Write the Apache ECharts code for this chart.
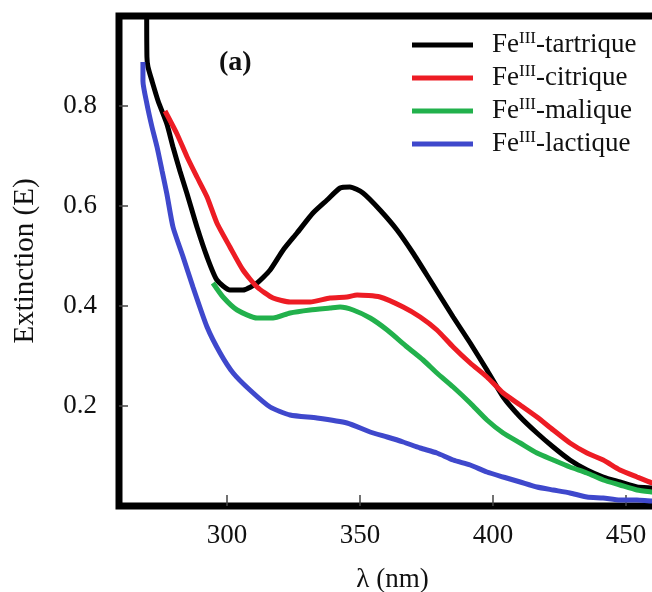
<!DOCTYPE html>
<html>
<head>
    <meta charset="utf-8">
    <title>Extinction Fe(III) complexes</title>
    <script src="https://cdn.jsdelivr.net/npm/echarts@6/dist/echarts.min.js"></script>
    <style>
        body { margin: 0; overflow: hidden; background: #fff; }
        #main { width: 680px; height: 592px; }
    </style>
</head>
<body>
<div id="main"></div>
<script type="text/javascript">
    // valeurs
    var ligands = ['tartrique', 'citrique', 'malique', 'lactique'];
    var colors = ['#000000', '#ed1c24', '#22b14c', '#3f48cc'];
    var wavelengthTicks = [300, 350, 400, 450];
    var extinctionTicks = [0.2, 0.4, 0.6, 0.8];

    var tartriqueNm = [269.8, 269.9, 270.3, 271.8, 274.1, 277.4, 279.7, 282.3, 285.0, 288.7, 292.5, 296.2, 301.1, 306.0,
        311.3, 316.2, 321.1, 326.3, 332.3, 337.6, 342.5, 346.2, 351.1, 357.5, 363.9, 369.9, 376.3, 385.0, 391.4,
        397.7, 403.8, 410.2, 416.5, 422.6, 428.9, 435.3, 441.4, 447.7, 454.1, 459.8, 462];
    var tartriqueE = [1.0, 0.898, 0.878, 0.85, 0.81, 0.764, 0.718, 0.67, 0.624, 0.558, 0.498, 0.452, 0.432, 0.432,
        0.446, 0.472, 0.512, 0.546, 0.586, 0.612, 0.636, 0.638, 0.626, 0.592, 0.552, 0.506, 0.452, 0.378, 0.326,
        0.272, 0.218, 0.178, 0.146, 0.118, 0.092, 0.072, 0.058, 0.048, 0.038, 0.036, 0.035];

    var citriqueNm = [276.7, 281.2, 285.0, 288.7, 292.5, 296.2, 301.1, 306.0, 311.3, 317.3, 323.7, 331.2, 338.7, 345.1,
        348.9, 357.5, 366.2, 372.6, 378.9, 385.0, 391.4, 397.7, 403.8, 410.2, 416.5, 422.6, 428.9, 435.3, 441.4, 447.7,
        454.1, 459.8, 462];
    var citriqueE = [0.79, 0.744, 0.698, 0.658, 0.618, 0.566, 0.518, 0.472, 0.438, 0.416, 0.408, 0.408, 0.416, 0.418,
        0.422, 0.418, 0.398, 0.378, 0.352, 0.318, 0.286, 0.258, 0.226, 0.202, 0.178, 0.152, 0.126, 0.106, 0.092, 0.072,
        0.058, 0.046, 0.043];

    var maliqueNm = [294.7, 298.5, 303.8, 311.3, 317.3, 323.7, 331.2, 338.7, 342.5, 347.4, 353.8, 360.2, 367.7,
        373.7, 378.9, 385.0, 391.4, 397.7, 403.8, 410.2, 416.5, 422.6, 428.9, 435.3, 441.4, 447.7, 454.1, 459.8, 462];
    var maliqueE = [0.446, 0.418, 0.392, 0.376, 0.376, 0.386, 0.392, 0.396, 0.398, 0.392, 0.376, 0.352, 0.318,
        0.292, 0.266, 0.238, 0.206, 0.172, 0.146, 0.126, 0.106, 0.092, 0.078, 0.066, 0.052, 0.042, 0.032, 0.028, 0.027];

    var lactiqueNm = [268.4, 268.4, 269.9, 271.8, 273.7, 275.6, 277.4, 279.7, 283.5, 287.2, 292.5, 297.4, 302.3, 308.6,
        316.2, 323.7, 333.8, 345.1, 353.8, 360.2, 366.2, 372.6, 378.9, 385.0, 391.4, 397.7, 403.8, 410.2, 416.5, 422.6,
        428.9, 435.3, 441.4, 447.7, 454.1, 459.8, 462];
    var lactiqueE = [0.888, 0.85, 0.804, 0.758, 0.718, 0.67, 0.624, 0.558, 0.498, 0.438, 0.358, 0.306, 0.266, 0.232,
        0.198, 0.182, 0.176, 0.166, 0.148, 0.138, 0.128, 0.116, 0.106, 0.092, 0.082, 0.068, 0.058, 0.048, 0.038, 0.032,
        0.026, 0.018, 0.016, 0.012, 0.012, 0.010, 0.010];

    var allNm = [tartriqueNm, citriqueNm, maliqueNm, lactiqueNm];
    var allE = [tartriqueE, citriqueE, maliqueE, lactiqueE];

    function zip(xs, ys) {
        return xs.map(function (x, i) { return [x, ys[i]]; });
    }

    var serif = 'Liberation Serif';
    var myChart = echarts.init(document.getElementById('main'));

    var series = ligands.map(function (lig, i) {
        return {
            name: 'FeIII-' + lig,
            type: 'line',
            data: zip(allNm[i], allE[i]),
            showSymbol: false,
            smooth: 0.2,
            clip: true,
            lineStyle: { color: colors[i], width: 5 },
            itemStyle: { color: colors[i] }
        };
    });

    var option = {
        backgroundColor: '#fff',
        animation: false,
        grid: {
            left: 119,
            top: 16,
            width: 547,
            height: 490,
            outerBoundsMode: 'none',
            show: true,
            borderColor: '#000',
            borderWidth: 7
        },
        legend: {
            orient: 'vertical',
            left: 412,
            top: 30,
            padding: 0,
            itemWidth: 61,
            itemHeight: 5,
            itemGap: 4.5,
            icon: 'rect',
            data: series.map(function (s) { return s.name; }),
            formatter: function (name) {
                return '{sp| }{a|Fe}{s|III}{a|' + name.slice(5) + '}';
            },
            textStyle: {
                fontFamily: serif,
                color: '#111',
                rich: {
                    sp: { width: 14, fontSize: 10 },
                    a: { fontFamily: serif, fontSize: 27, lineHeight: 30, color: '#111' },
                    s: { fontFamily: serif, fontSize: 17, lineHeight: 17, verticalAlign: 'top', color: '#111' }
                }
            }
        },
        graphic: [{
            type: 'text',
            left: 219,
            top: 49,
            style: {
                text: '(a)',
                font: 'bold 28px "Liberation Serif"',
                fill: '#111'
            }
        }],
        xAxis: {
            type: 'value',
            min: 259.4,
            max: 465,
            name: 'λ (nm)',
            nameLocation: 'middle',
            nameGap: 60,
            nameTextStyle: { fontFamily: serif, fontSize: 27, color: '#111' },
            axisLine: { show: false },
            axisTick: {
                inside: true,
                length: 11,
                customValues: wavelengthTicks,
                lineStyle: { color: '#444', width: 1.5 }
            },
            axisLabel: {
                customValues: wavelengthTicks,
                margin: 16,
                fontFamily: serif,
                fontSize: 27,
                color: '#111'
            },
            splitLine: { show: false }
        },
        yAxis: {
            type: 'value',
            min: 0,
            max: 0.98,
            name: 'Extinction (E)',
            nameLocation: 'middle',
            nameGap: 79,
            nameRotate: 90,
            nameTextStyle: { fontFamily: serif, fontSize: 29, color: '#111' },
            axisLine: { show: false },
            axisTick: {
                inside: true,
                length: 9,
                customValues: extinctionTicks,
                lineStyle: { color: '#444', width: 1.5 }
            },
            axisLabel: {
                customValues: extinctionTicks,
                margin: 22,
                fontFamily: serif,
                fontSize: 27,
                color: '#111',
                formatter: function (v) { return v.toFixed(1); }
            },
            splitLine: { show: false }
        },
        series: series
    };

    myChart.setOption(option);
</script>
</body>
</html>
